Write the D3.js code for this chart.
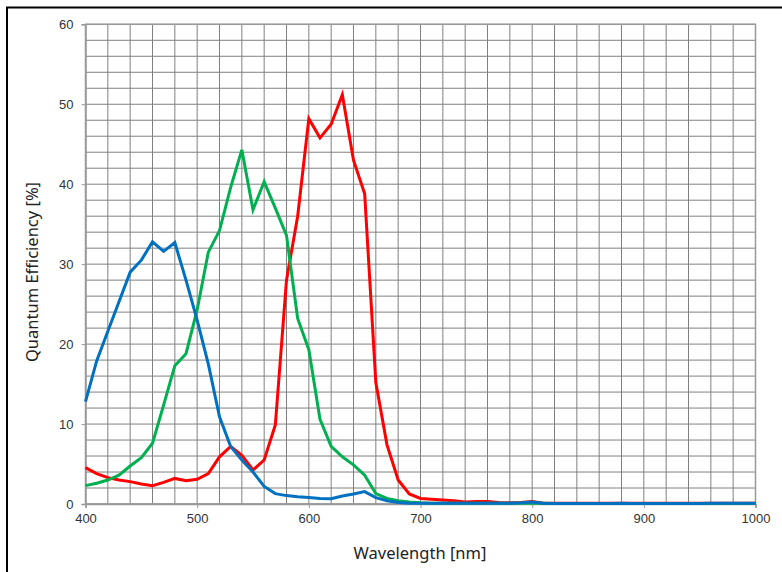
<!DOCTYPE html>
<html><head><meta charset="utf-8">
<script src="https://cdn.jsdelivr.net/npm/d3@7"></script>
<style>body{margin:0;background:#fff;}svg{display:block;}</style>
</head><body>
<script>
const wavelengths = d3.range(400, 1001, 10);
const blue = [12.8,17.9,21.6,25.3,29.0,30.5,32.8,31.6,32.7,28.0,23.0,17.5,10.9,7.2,5.5,4.0,2.2,1.3,1.05,0.9,0.8,0.7,0.65,1.0,1.25,1.55,0.8,0.4,0.2,0.1,0.1,0.1,0.1,0.1,0.1,0.1,0.1,0.1,0.1,0.15,0.25,0.1,0.05,0.05,0.05,0.05,0.05,0.05,0.1,0.05,0.05,0.05,0.05,0.05,0.05,0.05,0.1,0.1,0.1,0.1,0.1];
const green = [2.3,2.6,3.0,3.6,4.75,5.8,7.6,12.4,17.3,18.8,24.3,31.5,34.2,39.6,44.3,36.8,40.3,37.0,33.6,23.2,19.3,10.6,7.2,5.9,4.9,3.6,1.3,0.7,0.4,0.25,0.15,0.1,0.1,0.1,0.1,0.1,0.1,0.1,0.1,0.1,0.1,0.1,0.05,0.05,0.05,0.05,0.05,0.05,0.05,0.05,0.05,0.05,0.05,0.05,0.05,0.05,0.05,0.05,0.05,0.05,0.05];
const red = [4.55,3.8,3.3,3.0,2.8,2.5,2.3,2.7,3.2,2.9,3.1,3.8,5.9,7.2,6.1,4.25,5.5,9.9,28.0,36.0,48.2,45.8,47.5,51.2,43.0,38.8,15.2,7.4,3.0,1.25,0.7,0.6,0.5,0.4,0.25,0.3,0.3,0.2,0.15,0.2,0.3,0.1,0.1,0.1,0.1,0.1,0.1,0.1,0.1,0.1,0.1,0.1,0.1,0.1,0.1,0.1,0.1,0.1,0.1,0.1,0.1];
const xTicks = [400,500,600,700,800,900,1000];
const yTicks = [0,10,20,30,40,50,60];
const xTitle = "Wavelength [nm]";
const yTitle = "Quantum Efficiency [%]";

const W = 782, H = 572;
const svg = d3.select("body").append("svg").attr("width", W).attr("height", H);
svg.append("rect").attr("x",0).attr("y",0).attr("width",W).attr("height",H).attr("fill","#fff");
// outer frame
svg.append("rect").attr("x",7).attr("y",7.5).attr("width",W+10).attr("height",H+10)
  .attr("fill","none").attr("stroke","#000").attr("stroke-width",2);

const x = d3.scaleLinear().domain([400,1000]).range([85.5,755.5]);
const y = d3.scaleLinear().domain([0,60]).range([504,24.3]);

const g = svg.append("g");
// grid
g.selectAll("line.vg").data(d3.range(400,1001,20)).join("line").attr("class","vg")
  .attr("x1",d=>x(d)).attr("x2",d=>x(d)).attr("y1",y(60)).attr("y2",y(0))
  .attr("stroke","#808080").attr("stroke-width",1);
g.selectAll("line.hg").data(d3.range(0,61,2)).join("line").attr("class","hg")
  .attr("y1",d=>y(d)).attr("y2",d=>y(d)).attr("x1",x(400)).attr("x2",x(1000))
  .attr("stroke","#808080").attr("stroke-width",1);
// plot border
g.append("rect").attr("x",x(400)).attr("y",y(60)).attr("width",x(1000)-x(400)).attr("height",y(0)-y(60))
  .attr("fill","none").attr("stroke","#999").attr("stroke-width",1.5);

// axes
const xAxis = d3.axisBottom(x).tickValues(xTicks).tickSize(4).tickPadding(6).tickFormat(d3.format("d"));
const yAxis = d3.axisLeft(y).tickValues(yTicks).tickSize(4).tickPadding(8).tickFormat(d3.format("d"));
const gx = svg.append("g").attr("transform",`translate(0,${y(0)})`).call(xAxis);
const gy = svg.append("g").attr("transform",`translate(${x(400)},0)`).call(yAxis);
[gx,gy].forEach(a=>{
  a.select(".domain").attr("stroke","#999").attr("stroke-width",1.5);
  a.selectAll(".tick line").attr("stroke","#999");
  a.selectAll("text").attr("font-family","Liberation Sans, Arial, sans-serif").attr("font-size",13).attr("fill","#333");
});

// lines
const line = d3.line().x((d,i)=>x(wavelengths[i])).y(d=>y(d));
[[red,"#ff0000"],[green,"#00b050"],[blue,"#0070c0"]].forEach(([data,c])=>{
  svg.append("path").datum(data).attr("d",line).attr("fill","none")
    .attr("stroke",c).attr("stroke-width",3).attr("stroke-linejoin","miter");
});

// titles
svg.append("text").attr("x",420).attr("y",559).attr("text-anchor","middle")
  .attr("font-family","Noto Sans, sans-serif").attr("font-size",16.5).attr("fill","#222").text(xTitle);
svg.append("text").attr("transform",`translate(38,272) rotate(-90)`).attr("text-anchor","middle")
  .attr("font-family","Noto Sans, sans-serif").attr("font-size",16.5).attr("fill","#222").text(yTitle);
</script>
</body></html>
